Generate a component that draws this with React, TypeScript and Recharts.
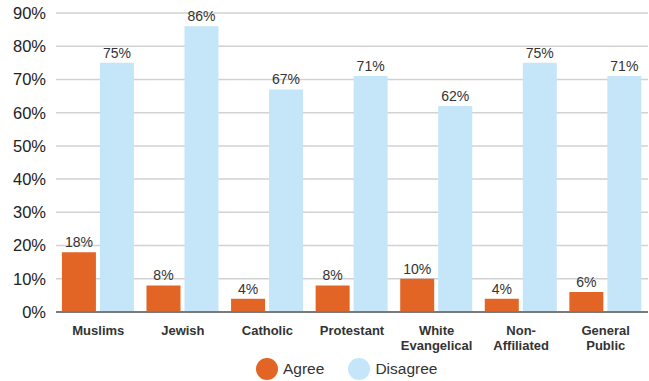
import { BarChart, Bar, XAxis, YAxis, CartesianGrid, LabelList, Legend } from 'recharts';

const categories = ['Muslims', 'Jewish', 'Catholic', 'Protestant', 'White\nEvangelical', 'Non-\nAffiliated', 'General\nPublic'];
const agree = [18, 8, 4, 8, 10, 4, 6];
const disagree = [75, 86, 67, 71, 62, 75, 71];
const yTicks = [0, 10, 20, 30, 40, 50, 60, 70, 80, 90];

const ORANGE = '#E26526';
const BLUE = '#C5E6F8';
const FONT = 'Arial, "Liberation Sans", sans-serif';

const data = categories.map((name, i) => ({ name, agree: agree[i], disagree: disagree[i] }));

const CategoryTick = (props: any) => {
  const { x, y, payload } = props;
  const lines = String(payload.value).split('\n');
  return (
    <g transform={`translate(${x},${y})`}>
      {lines.map((line, i) => (
        <text
          key={i}
          x={0}
          y={15 + i * 15}
          textAnchor="middle"
          fontFamily={FONT}
          fontWeight="bold"
          fontSize={13}
          fill="#333"
        >
          {line}
        </text>
      ))}
    </g>
  );
};

const LegendContent = () => (
  <div style={{ display: 'flex', alignItems: 'center', height: 24, paddingLeft: 256, fontFamily: FONT, fontSize: 15.5, color: '#333' }}>
    <span style={{ width: 22, height: 22, borderRadius: 11, background: ORANGE, display: 'inline-block' }} />
    <span style={{ marginLeft: 5 }}>Agree</span>
    <span style={{ width: 22, height: 22, borderRadius: 11, background: BLUE, display: 'inline-block', marginLeft: 24 }} />
    <span style={{ marginLeft: 5 }}>Disagree</span>
  </div>
);

export default function App() {
  return (
    <div style={{ position: 'absolute', left: 0, top: 0, background: '#fff' }}>
      <BarChart
        width={649}
        height={381}
        data={data}
        margin={{ top: 13, right: 1, left: 0, bottom: 0 }}
        barCategoryGap="7%"
        barGap={4}
      >
        <CartesianGrid vertical={false} stroke="#d2d2d2" strokeWidth={1.5} />
        <XAxis
          dataKey="name"
          interval={0}
          height={45}
          tickLine={false}
          axisLine={{ stroke: '#7a7a7a', strokeWidth: 2 }}
          tick={<CategoryTick />}
        />
        <YAxis
          width={56}
          domain={[0, 90]}
          ticks={yTicks}
          tickFormatter={(v: number) => `${v}%`}
          axisLine={false}
          tickLine={false}
          tickMargin={4}
          tick={{ fontSize: 16.5, fill: '#222', fontFamily: FONT }}
        />
        <Legend verticalAlign="bottom" height={24} content={<LegendContent />} />
        <Bar dataKey="agree" name="Agree" fill={ORANGE} isAnimationActive={false}>
          <LabelList
            dataKey="agree"
            position="top"
            offset={5}
            formatter={(v: any) => `${v}%`}
            style={{ fontSize: 14, fill: '#333', fontFamily: FONT }}
          />
        </Bar>
        <Bar dataKey="disagree" name="Disagree" fill={BLUE} isAnimationActive={false}>
          <LabelList
            dataKey="disagree"
            position="top"
            offset={5}
            formatter={(v: any) => `${v}%`}
            style={{ fontSize: 14, fill: '#333', fontFamily: FONT }}
          />
        </Bar>
      </BarChart>
    </div>
  );
}
